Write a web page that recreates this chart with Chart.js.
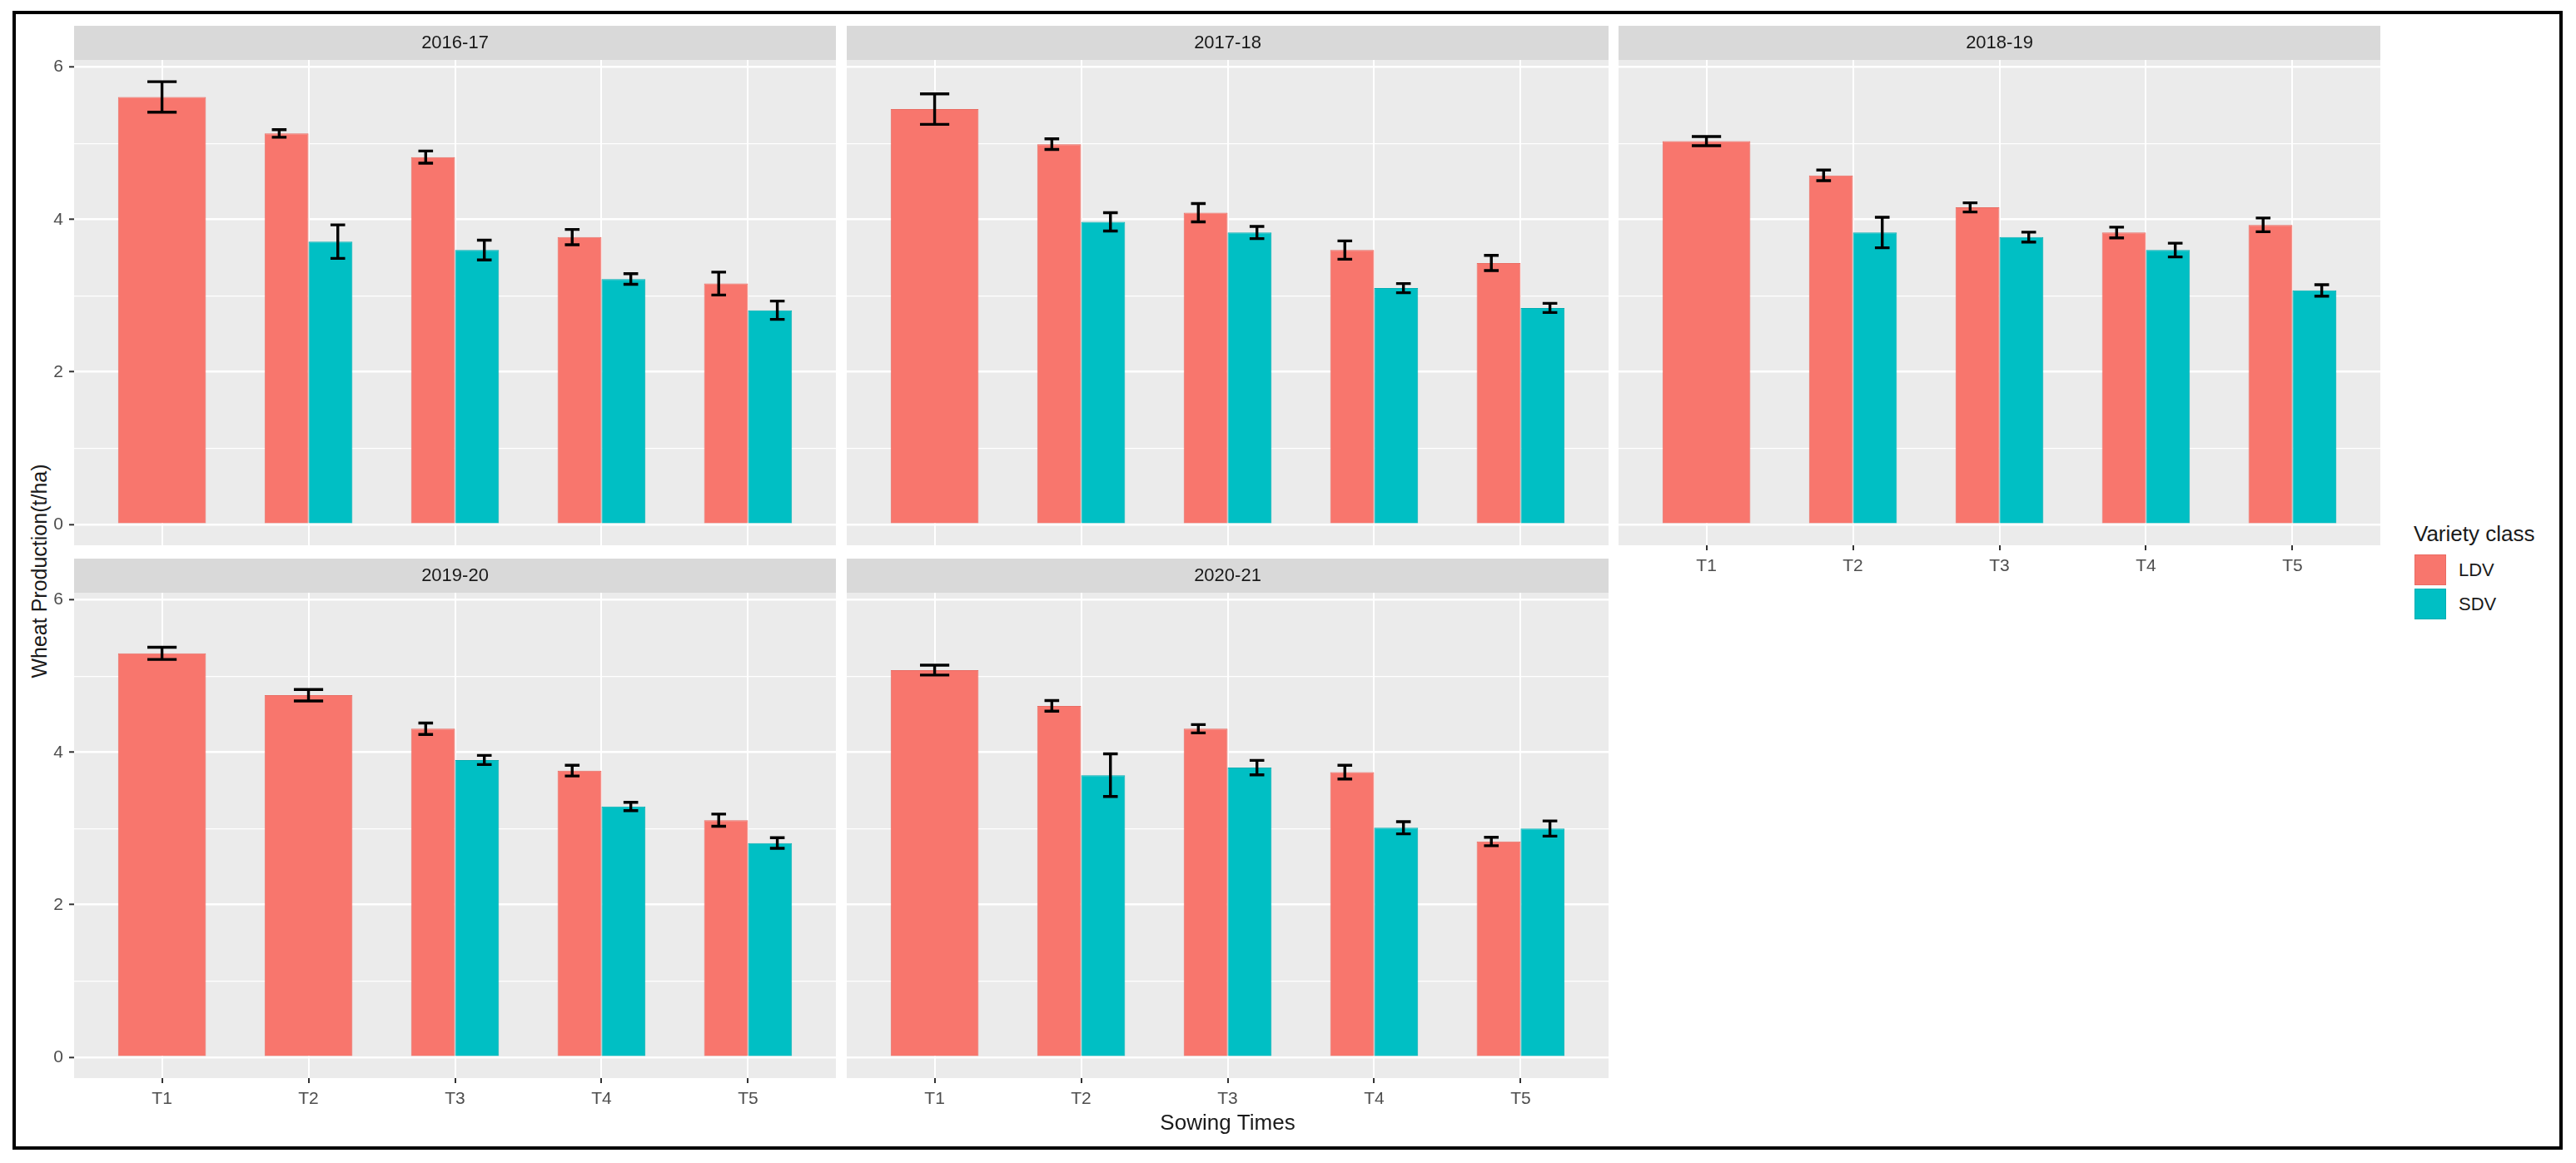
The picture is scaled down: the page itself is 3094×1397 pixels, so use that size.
<!DOCTYPE html>
<html>
<head>
<meta charset="utf-8">
<title>Wheat production by sowing time</title>
<script src="https://cdn.jsdelivr.net/npm/chart.js@4.4.1/dist/chart.umd.min.js"></script>
<style>
  html, body { margin: 0; padding: 0; background: #fff; }
  body { width: 3094px; height: 1397px; position: relative; overflow: hidden;
         font-family: "Liberation Sans", Arial, sans-serif; }
  .frame { position: absolute; left: 15px; top: 13px; width: 3063px; height: 1368px;
           border: 4.5px solid #000; box-sizing: border-box; }
  canvas { position: absolute; }
  .ytitle { position: absolute; left: -153px; top: 671px; width: 400px; height: 30px;
            line-height: 30px; text-align: center; font-size: 25px; color: #1a1a1a;
            transform: rotate(-90deg); }
  .legend { position: absolute; left: 2899px; top: 628px; color: #1a1a1a; }
  .legend .title { font-size: 26px; line-height: 26px; }
  .legend .row { position: absolute; left: 1px; height: 37px; width: 140px; }
  .legend .key { position: absolute; left: 0; top: 0; width: 38px; height: 37px; box-sizing: border-box; }
  .legend .lab { position: absolute; left: 53px; top: 0; line-height: 37px; font-size: 22px; }
</style>
</head>
<body>
<div class="frame"></div>
<div class="ytitle">Wheat Production(t/ha)</div>
<div class="legend" id="legend"><div class="title">Variety class</div></div>

<script>
// sowing times on the x axis and the five seasons (facets)
const sowingTimes = ['T1', 'T2', 'T3', 'T4', 'T5'];
const seasons = ['2016-17', '2017-18', '2018-19', '2019-20', '2020-21'];
const varieties = ['LDV', 'SDV'];
const varietyColors = ['#F8766D', '#00BFC4'];
const varietyEdges = ['#E96C63', '#00AEB3'];

// mean yield (t/ha) and error bar half-length
const ldv1617 = [5.61, 5.13, 4.82, 3.77, 3.16];
const ldvErr1617 = [0.20, 0.05, 0.08, 0.10, 0.15];
const sdv1617 = [null, 3.71, 3.60, 3.22, 2.81];
const sdvErr1617 = [null, 0.22, 0.13, 0.07, 0.12];

const ldv1718 = [5.45, 4.99, 4.09, 3.60, 3.43];
const ldvErr1718 = [0.20, 0.07, 0.12, 0.12, 0.10];
const sdv1718 = [null, 3.97, 3.83, 3.10, 2.84];
const sdvErr1718 = [null, 0.12, 0.08, 0.06, 0.06];

const ldv1819 = [5.03, 4.58, 4.16, 3.83, 3.93];
const ldvErr1819 = [0.06, 0.07, 0.06, 0.07, 0.09];
const sdv1819 = [null, 3.83, 3.77, 3.60, 3.07];
const sdvErr1819 = [null, 0.20, 0.065, 0.09, 0.075];

const ldv1920 = [5.30, 4.75, 4.31, 3.76, 3.11];
const ldvErr1920 = [0.08, 0.075, 0.075, 0.07, 0.08];
const sdv1920 = [null, null, 3.90, 3.29, 2.81];
const sdvErr1920 = [null, null, 0.06, 0.055, 0.07];

const ldv2021 = [5.08, 4.61, 4.31, 3.74, 2.83];
const ldvErr2021 = [0.065, 0.07, 0.055, 0.09, 0.055];
const sdv2021 = [null, 3.70, 3.80, 3.01, 3.00];
const sdvErr2021 = [null, 0.28, 0.095, 0.08, 0.10];

const ldvBySeason = [ldv1617, ldv1718, ldv1819, ldv1920, ldv2021];
const ldvErrBySeason = [ldvErr1617, ldvErr1718, ldvErr1819, ldvErr1920, ldvErr2021];
const sdvBySeason = [sdv1617, sdv1718, sdv1819, sdv1920, sdv2021];
const sdvErrBySeason = [sdvErr1617, sdvErr1718, sdvErr1819, sdvErr1920, sdvErr2021];

// facet layout (pixels)
const colLeft = [89, 1017, 1944];
const rowTop = [31, 671];
const panelW = 915, stripH = 41, panelH = 583;
const facetPos = [[0, 0], [0, 1], [0, 2], [1, 0], [1, 1]];   // [row, col]
const xAxisH = [22, 0, 45, 45, 70];
const xLabelsShown = [false, false, true, true, true];

Chart.defaults.font.family = '"Liberation Sans", Arial, sans-serif';

// grey panel + strip background
const panelBg = {
  id: 'panelBg',
  beforeDraw(chart) {
    const { ctx, chartArea: a } = chart;
    ctx.save();
    ctx.fillStyle = '#D9D9D9';
    ctx.fillRect(a.left, 0, a.right - a.left, a.top);
    ctx.fillStyle = '#EBEBEB';
    ctx.fillRect(a.left, a.top, a.right - a.left, a.bottom - a.top);
    ctx.restore();
  }
};

// dodged error bars, like ggplot's geom_errorbar(position_dodge)
const errorBars = {
  id: 'errorBars',
  afterDatasetsDraw(chart) {
    const { ctx } = chart;
    const xs = chart.scales.x, ys = chart.scales.y;
    const sets = chart.data.datasets;
    ctx.save();
    ctx.strokeStyle = '#000';
    ctx.lineWidth = 3.4;
    sets.forEach((ds, di) => {
      ds.data.forEach((pt, i) => {
        if (pt.y == null) return;
        const paired = sets.filter(s => s.data[i].y != null).length > 1;
        const shift = paired ? (di === 0 ? -0.2 : 0.2) : 0;
        const half = paired ? 0.05 : 0.1;
        const e = ds.errors[i];
        const x = xs.getPixelForValue(pt.x + shift);
        const xl = xs.getPixelForValue(pt.x + shift - half);
        const xr = xs.getPixelForValue(pt.x + shift + half);
        const yt = ys.getPixelForValue(pt.y + e);
        const yb = ys.getPixelForValue(pt.y - e);
        ctx.beginPath();
        ctx.moveTo(x, yt); ctx.lineTo(x, yb);
        ctx.moveTo(xl, yt); ctx.lineTo(xr, yt);
        ctx.moveTo(xl, yb); ctx.lineTo(xr, yb);
        ctx.stroke();
      });
    });
    ctx.restore();
  }
};

seasons.forEach((season, s) => {
  const [row, col] = facetPos[s];
  const padL = col === 0 ? 60 : 0;
  const showX = xLabelsShown[s];
  const showY = col === 0;

  const canvas = document.createElement('canvas');
  const w = padL + panelW, h = stripH + panelH + xAxisH[s];
  canvas.width = w; canvas.height = h;
  canvas.style.width = w + 'px'; canvas.style.height = h + 'px';
  canvas.style.left = (colLeft[col] - padL) + 'px';
  canvas.style.top = rowTop[row] + 'px';
  document.body.appendChild(canvas);

  const series = [ldvBySeason[s], sdvBySeason[s]];
  const errs = [ldvErrBySeason[s], sdvErrBySeason[s]];

  new Chart(canvas.getContext('2d'), {
    type: 'bar',
    data: {
      datasets: varieties.map((v, k) => ({
        label: v,
        data: sowingTimes.map((t, i) => ({ x: i + 1, y: series[k][i] })),
        errors: errs[k],
        backgroundColor: varietyColors[k],
        borderColor: varietyEdges[k],
        borderWidth: 1,
        skipNull: true,
        categoryPercentage: 0.6,
        barPercentage: 1.0
      }))
    },
    options: {
      responsive: false,
      animation: false,
      devicePixelRatio: 1,
      layout: { padding: 0 },
      plugins: {
        legend: { display: false },
        tooltip: { enabled: false },
        title: {
          display: true,
          text: season,
          fullSize: false,
          color: '#1A1A1A',
          font: { size: 22, weight: 'normal', lineHeight: 1.2 },
          padding: { top: 7.3, bottom: 7.3 }
        }
      },
      scales: {
        x: {
          type: 'linear',
          min: 0.4,
          max: 5.6,
          offset: false,
          afterFit(scale) { scale.height = xAxisH[s]; },
          border: { display: false },
          grid: {
            offset: false,
            color: '#FFFFFF',
            lineWidth: 2,
            drawTicks: showX,
            tickLength: 6,
            tickWidth: 2,
            tickColor: '#333333'
          },
          ticks: {
            display: showX,
            stepSize: 1,
            includeBounds: false,
            padding: 7,
            color: '#4D4D4D',
            font: { size: 21 },
            maxRotation: 0,
            callback: v => sowingTimes[v - 1]
          },
          title: {
            display: s === 4,
            text: 'Sowing Times',
            color: '#1A1A1A',
            font: { size: 26 },
            padding: { top: 0, bottom: 0 }
          }
        },
        y: {
          min: -0.275,
          max: 6.095,
          afterFit(scale) { scale.width = padL; },
          border: { display: false },
          grid: {
            color: '#FFFFFF',
            lineWidth: c => (c.tick && c.tick.value % 2 === 0) ? 2.6 : 1.3,
            drawTicks: showY,
            tickLength: 6,
            tickWidth: 2,
            tickColor: c => (c.tick && c.tick.value % 2 === 0) ? '#333333' : 'rgba(0,0,0,0)'
          },
          ticks: {
            display: showY,
            stepSize: 1,
            includeBounds: false,
            padding: 7,
            color: '#4D4D4D',
            font: { size: 21 },
            callback: v => (v % 2 === 0 ? String(v) : '')
          }
        }
      }
    },
    plugins: [panelBg, errorBars]
  });
});

// legend built from the variety names and colours
const legend = document.getElementById('legend');
varieties.forEach((v, k) => {
  const row = document.createElement('div');
  row.className = 'row';
  row.style.top = (38 + k * 41) + 'px';
  const key = document.createElement('div');
  key.className = 'key';
  key.style.background = varietyColors[k];
  key.style.border = '1px solid ' + varietyEdges[k];
  const lab = document.createElement('div');
  lab.className = 'lab';
  lab.textContent = v;
  row.appendChild(key);
  row.appendChild(lab);
  legend.appendChild(row);
});
</script>
</body>
</html>
